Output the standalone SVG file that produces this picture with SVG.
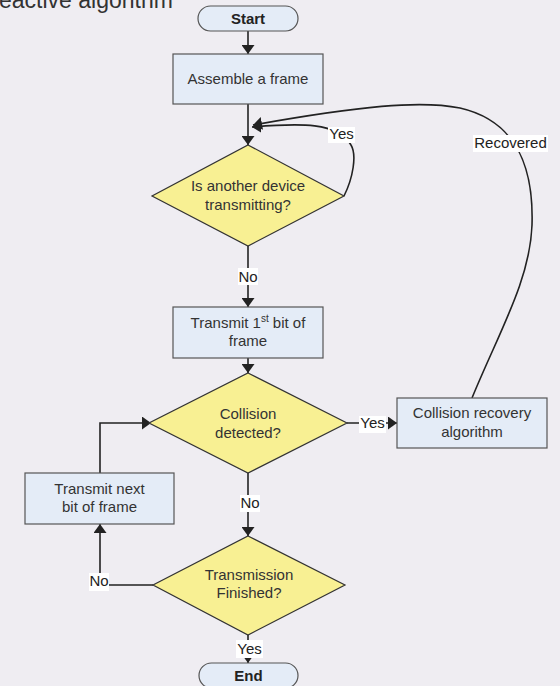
<svg xmlns="http://www.w3.org/2000/svg" width="560" height="686" viewBox="0 0 560 686">
<defs>
<style>
.bg{fill:#efedf2}
.box{fill:#e4ecf7;stroke:#555;stroke-width:1.2}
.dia{fill:#f8f093;stroke:#333;stroke-width:1.2}
.t{font-family:"Liberation Sans",Arial,sans-serif;font-size:15px;fill:#333;text-anchor:middle}
.b{font-weight:bold;fill:#222}
.c{fill:none;stroke:#222;stroke-width:1.6}
.lb{fill:#fff}
.lt{font-family:"Liberation Sans",Arial,sans-serif;font-size:15px;fill:#222;text-anchor:middle}
</style>
<marker id="ah" viewBox="0 0 9 13" refX="9" refY="6.5" markerWidth="9" markerHeight="13" markerUnits="userSpaceOnUse" orient="auto">
<path d="M0,0 L9,6.5 L0,13 z" fill="#222"/>
</marker>
</defs>
<rect class="bg" x="0" y="0" width="560" height="686"/>
<text x="-1" y="7.5" font-family="Liberation Sans,Arial,sans-serif" font-size="23" fill="#333">eactive algorithm</text>

<g id="connectors">
<path class="c" d="M248,31 V54" marker-end="url(#ah)"/>
<path class="c" d="M248,104 V145" marker-end="url(#ah)"/>
<path class="c" d="M344,196 C353,178 357,155 351,145 C338,122 300,123 252,127" marker-end="url(#ah)"/>
<path class="c" d="M472,398 C500,330 530,280 532,225 C534,160 512,120 460,108 C420,100 360,106 253,125" marker-end="url(#ah)"/>
<path class="c" d="M248,246 V307" marker-end="url(#ah)"/>
<path class="c" d="M248,358 V373" marker-end="url(#ah)"/>
<path class="c" d="M347,423 H397" marker-end="url(#ah)"/>
<path class="c" d="M248,473 V536" marker-end="url(#ah)"/>
<path class="c" d="M153,585 H100 V524" marker-end="url(#ah)"/>
<path class="c" d="M100,473 V423 H151" marker-end="url(#ah)"/>
<path class="c" d="M248,635 V663" marker-end="url(#ah)"/>
<g id="labels">
<rect class="lb" x="328" y="127" width="27" height="16"/><text class="lt" x="341.5" y="139">Yes</text>
<rect class="lb" x="473" y="135" width="75" height="17"/><text class="lt" x="510.5" y="148">Recovered</text>
<rect class="lb" x="238" y="268" width="20" height="17"/><text class="lt" x="248" y="282">No</text>
<rect class="lb" x="359" y="416" width="27" height="17"/><text class="lt" x="372.5" y="428">Yes</text>
<rect class="lb" x="240" y="495" width="20" height="17"/><text class="lt" x="250" y="508">No</text>
<rect class="lb" x="89" y="573" width="20" height="18"/><text class="lt" x="99" y="586">No</text>
<rect class="lb" x="236" y="640" width="27" height="18"/><text class="lt" x="249.5" y="654">Yes</text>
</g>
</g>

<g id="start"><rect class="box" x="198" y="6" width="100" height="25" rx="12.5"/><text class="t b" x="248" y="24">Start</text></g>
<g id="assemble"><rect class="box" x="173" y="54" width="150" height="50"/><text class="t" x="248" y="84">Assemble a frame</text></g>
<g id="another"><polygon class="dia" points="248,145 344,196 248,246 152,196"/><text class="t" x="248" y="191">Is another device</text><text class="t" x="248" y="210">transmitting?</text></g>
<g id="first"><rect class="box" x="173" y="307" width="150" height="51"/><text class="t" x="248" y="328">Transmit 1<tspan font-size="10" dy="-6">st</tspan><tspan dy="6"> bit of</tspan></text><text class="t" x="248" y="346">frame</text></g>
<g id="collision"><polygon class="dia" points="248,373 347,423 248,473 149,423"/><text class="t" x="248" y="419">Collision</text><text class="t" x="248" y="438">detected?</text></g>
<g id="recovery"><rect class="box" x="397" y="398" width="150" height="50"/><text class="t" x="472" y="418">Collision recovery</text><text class="t" x="472" y="437">algorithm</text></g>
<g id="next"><rect class="box" x="25" y="473" width="149" height="51"/><text class="t" x="99.5" y="494">Transmit next</text><text class="t" x="99.5" y="512">bit of frame</text></g>
<g id="finished"><polygon class="dia" points="248,536 345,585 248,635 153,585"/><text class="t" x="249" y="580">Transmission</text><text class="t" x="249" y="598">Finished?</text></g>
<g id="end"><rect class="box" x="199" y="663" width="99" height="25" rx="12.5"/><text class="t b" x="248.5" y="681">End</text></g>
</svg>
